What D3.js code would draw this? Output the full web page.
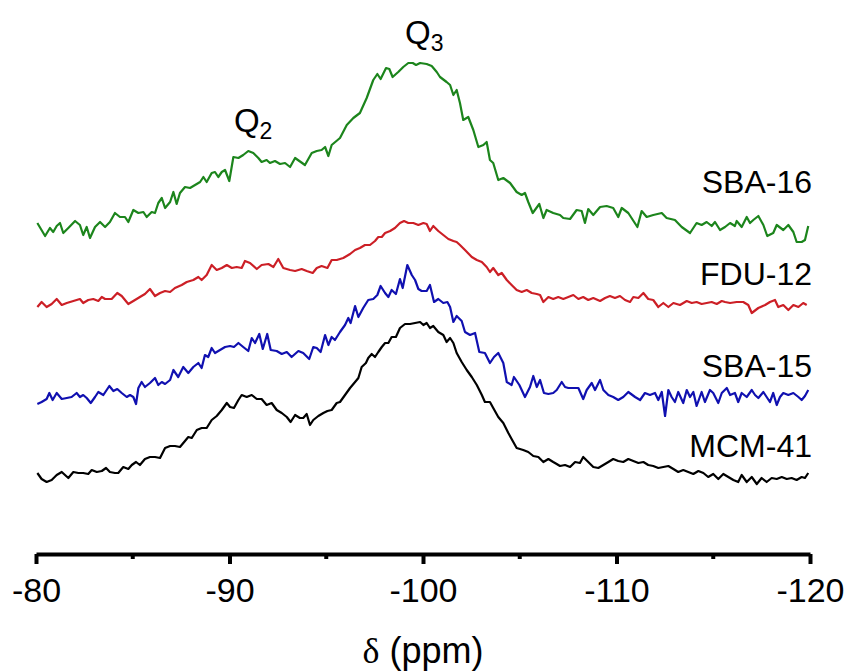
<!DOCTYPE html>
<html>
<head>
<meta charset="utf-8">
<script src="https://cdn.jsdelivr.net/npm/d3@7"></script>
<style>
  body { margin: 0; background: #fff; }
  text { font-family: "Liberation Sans", Arial, sans-serif; fill: #000; }
</style>
</head>
<body>
<svg width="847" height="672"></svg>
<script>
let width = 847,
    height = 672;

// chemical shift (ppm) vs stacked intensity (a.u.)
let mcm41 = [[-80.07,87],[-80.29,81],[-80.55,78],[-80.81,80],[-81.07,85],[-81.33,88],[-81.67,82],[-81.93,88],[-82.19,87],[-82.44,87],[-82.70,86],[-82.88,90],[-83.14,88],[-83.40,89],[-83.62,92],[-83.82,88],[-84.08,87],[-84.25,87],[-84.51,93],[-84.77,91],[-84.95,95],[-85.17,98],[-85.37,95],[-85.63,101],[-85.89,103],[-86.15,103],[-86.41,102],[-86.67,112],[-86.93,114],[-87.18,114],[-87.44,113],[-87.70,119],[-87.87,123],[-88.05,122],[-88.31,130],[-88.56,132],[-88.82,132],[-89.08,140],[-89.34,144],[-89.60,150],[-89.86,157],[-90.03,153],[-90.23,152],[-90.46,160],[-90.63,165],[-90.89,163],[-91.15,165],[-91.41,161],[-91.66,161],[-91.92,155],[-92.18,157],[-92.44,150],[-92.70,147],[-92.96,143],[-93.16,138],[-93.39,145],[-93.64,142],[-93.81,142],[-93.99,146],[-94.16,135],[-94.33,140],[-94.59,144],[-94.85,147],[-95.06,149],[-95.28,150],[-95.54,157],[-95.71,158],[-95.97,165],[-96.23,172],[-96.49,178],[-96.66,182],[-96.83,193],[-97.05,197],[-97.17,202],[-97.35,206],[-97.52,203],[-97.69,208],[-97.87,213],[-98.04,217],[-98.21,217],[-98.38,223],[-98.60,223],[-98.81,232],[-99.07,236],[-99.33,236],[-99.59,237],[-99.85,238],[-100.02,235],[-100.19,237],[-100.36,232],[-100.53,234],[-100.79,228],[-101.05,225],[-101.22,218],[-101.40,222],[-101.57,217],[-101.74,207],[-102.00,198],[-102.26,190],[-102.52,183],[-102.78,175],[-103.04,165],[-103.20,158],[-103.46,158],[-103.63,152],[-103.89,143],[-104.15,137],[-104.41,127],[-104.58,121],[-104.84,112],[-105.18,110],[-105.44,108],[-105.70,104],[-105.96,103],[-106.22,98],[-106.48,101],[-106.73,98],[-106.91,96],[-107.08,94],[-107.34,95],[-107.60,93],[-107.86,98],[-108.11,97],[-108.28,103],[-108.54,98],[-108.80,93],[-109.06,92],[-109.32,95],[-109.58,98],[-109.83,101],[-110.09,99],[-110.35,98],[-110.61,101],[-110.87,99],[-111.13,97],[-111.39,98],[-111.64,95],[-111.90,94],[-112.16,92],[-112.42,93],[-112.68,94],[-112.94,91],[-113.19,88],[-113.45,90],[-113.71,88],[-113.97,86],[-114.23,89],[-114.49,87],[-114.74,83],[-115.00,86],[-115.26,81],[-115.52,86],[-115.78,83],[-116.04,80],[-116.29,78],[-116.47,85],[-116.73,78],[-116.99,83],[-117.25,76],[-117.50,82],[-117.76,78],[-118.02,82],[-118.28,81],[-118.54,83],[-118.80,81],[-119.05,82],[-119.31,80],[-119.57,83],[-119.74,82],[-119.91,87]];

let sba15 = [[-80.07,156],[-80.29,158],[-80.55,161],[-80.69,167],[-80.86,160],[-81.07,167],[-81.33,161],[-81.59,162],[-81.84,163],[-82.10,167],[-82.27,163],[-82.44,165],[-82.62,162],[-82.83,157],[-83.05,163],[-83.22,168],[-83.48,165],[-83.79,174],[-84.00,169],[-84.20,171],[-84.43,167],[-84.69,163],[-84.86,165],[-85.03,163],[-85.17,156],[-85.29,172],[-85.46,178],[-85.63,173],[-85.89,177],[-86.15,182],[-86.32,175],[-86.50,178],[-86.67,176],[-86.93,180],[-87.10,190],[-87.35,183],[-87.61,193],[-87.87,187],[-88.13,193],[-88.39,197],[-88.56,192],[-88.73,205],[-88.90,203],[-89.08,212],[-89.25,207],[-89.51,210],[-89.77,213],[-90.03,214],[-90.23,213],[-90.46,217],[-90.71,213],[-90.97,209],[-91.15,222],[-91.32,217],[-91.54,226],[-91.72,211],[-91.95,226],[-92.13,210],[-92.44,209],[-92.70,206],[-92.96,208],[-93.21,203],[-93.56,209],[-93.81,207],[-94.12,201],[-94.33,213],[-94.51,212],[-94.71,208],[-94.94,225],[-95.11,215],[-95.28,223],[-95.45,220],[-95.71,228],[-95.97,235],[-96.14,242],[-96.26,237],[-96.49,254],[-96.66,243],[-96.91,252],[-97.17,260],[-97.43,261],[-97.64,265],[-97.81,274],[-98.04,267],[-98.21,263],[-98.38,270],[-98.60,266],[-98.81,281],[-98.95,272],[-99.19,295],[-99.42,285],[-99.59,280],[-99.76,271],[-99.93,269],[-100.19,269],[-100.36,275],[-100.57,258],[-100.79,261],[-101.05,257],[-101.26,258],[-101.40,253],[-101.57,238],[-101.74,244],[-102.00,239],[-102.17,228],[-102.43,225],[-102.69,227],[-102.91,208],[-103.20,207],[-103.46,197],[-103.67,203],[-103.89,207],[-104.15,197],[-104.33,178],[-104.58,175],[-104.70,183],[-104.98,175],[-105.27,163],[-105.53,173],[-105.70,184],[-105.88,173],[-106.05,180],[-106.25,167],[-106.48,166],[-106.73,167],[-106.91,170],[-107.17,178],[-107.34,173],[-107.51,172],[-107.77,172],[-108.03,172],[-108.28,161],[-108.46,170],[-108.72,177],[-108.89,170],[-109.15,180],[-109.32,170],[-109.58,165],[-109.83,163],[-110.09,160],[-110.35,163],[-110.61,168],[-110.96,163],[-111.22,160],[-111.47,167],[-111.73,165],[-111.99,167],[-112.16,160],[-112.34,168],[-112.51,144],[-112.68,170],[-112.85,163],[-113.02,158],[-113.19,168],[-113.45,157],[-113.63,170],[-113.80,163],[-113.97,168],[-114.14,154],[-114.40,168],[-114.57,158],[-114.83,170],[-115.00,167],[-115.26,157],[-115.44,167],[-115.70,172],[-115.87,165],[-116.12,167],[-116.29,158],[-116.47,167],[-116.73,163],[-116.99,170],[-117.16,165],[-117.33,162],[-117.59,168],[-117.76,163],[-117.93,158],[-118.10,167],[-118.28,155],[-118.45,163],[-118.62,167],[-118.88,165],[-119.14,167],[-119.40,163],[-119.57,160],[-119.74,164],[-119.91,170]];

let fdu12 = [[-80.07,253],[-80.29,258],[-80.55,253],[-80.81,256],[-81.07,261],[-81.33,255],[-81.59,257],[-81.93,259],[-82.27,261],[-82.44,257],[-82.70,260],[-82.96,261],[-83.22,259],[-83.40,263],[-83.57,261],[-83.91,261],[-84.20,267],[-84.43,264],[-84.77,256],[-85.03,259],[-85.37,263],[-85.63,266],[-85.89,271],[-86.15,264],[-86.41,267],[-86.67,269],[-86.93,268],[-87.18,272],[-87.53,275],[-87.79,278],[-88.13,280],[-88.39,283],[-88.56,280],[-88.82,285],[-89.08,295],[-89.34,290],[-89.60,292],[-89.86,295],[-90.12,292],[-90.37,293],[-90.63,292],[-90.80,299],[-91.06,297],[-91.41,291],[-91.66,295],[-92.01,296],[-92.27,293],[-92.52,301],[-92.78,292],[-93.13,290],[-93.39,289],[-93.73,291],[-93.99,289],[-94.30,287],[-94.51,292],[-94.76,294],[-95.06,292],[-95.28,300],[-95.54,300],[-95.88,302],[-96.23,306],[-96.49,310],[-96.74,312],[-97.00,315],[-97.26,315],[-97.52,319],[-97.69,323],[-97.87,323],[-98.04,327],[-98.30,329],[-98.55,332],[-98.81,337],[-99.02,339],[-99.24,337],[-99.50,337],[-99.76,335],[-100.02,337],[-100.19,336],[-100.36,329],[-100.53,334],[-100.79,329],[-101.05,325],[-101.31,321],[-101.57,319],[-101.74,318],[-101.91,315],[-102.17,310],[-102.52,303],[-102.78,300],[-103.04,298],[-103.29,293],[-103.46,288],[-103.63,292],[-103.89,285],[-104.07,287],[-104.33,280],[-104.58,275],[-104.84,270],[-105.10,268],[-105.36,270],[-105.62,267],[-105.88,266],[-106.05,265],[-106.22,258],[-106.48,263],[-106.73,261],[-106.99,263],[-107.25,261],[-107.51,263],[-107.77,265],[-108.03,261],[-108.28,263],[-108.54,260],[-108.80,262],[-109.15,259],[-109.41,262],[-109.66,264],[-109.92,262],[-110.18,264],[-110.44,260],[-110.70,258],[-110.87,263],[-111.13,262],[-111.39,267],[-111.64,261],[-111.90,260],[-112.16,253],[-112.42,257],[-112.68,253],[-112.94,257],[-113.28,255],[-113.63,259],[-113.89,257],[-114.14,258],[-114.40,256],[-114.66,257],[-114.92,258],[-115.18,256],[-115.44,259],[-115.61,258],[-115.87,257],[-116.21,258],[-116.55,258],[-116.81,255],[-116.99,247],[-117.33,252],[-117.68,255],[-117.93,258],[-118.19,260],[-118.36,253],[-118.62,255],[-118.88,250],[-119.14,255],[-119.40,253],[-119.65,257],[-119.83,255]];

let sba16 = [[-80.07,337],[-80.47,324],[-80.72,332],[-80.89,328],[-81.07,334],[-81.24,337],[-81.41,327],[-81.67,332],[-82.02,339],[-82.27,335],[-82.44,325],[-82.62,333],[-82.79,322],[-83.05,333],[-83.31,338],[-83.57,333],[-83.82,338],[-84.08,347],[-84.34,343],[-84.60,343],[-84.77,338],[-85.03,350],[-85.29,347],[-85.55,348],[-85.72,343],[-85.98,348],[-86.15,347],[-86.32,357],[-86.50,362],[-86.67,352],[-86.93,358],[-87.10,368],[-87.27,356],[-87.44,367],[-87.70,373],[-87.96,372],[-88.22,375],[-88.48,378],[-88.65,383],[-88.82,378],[-89.08,387],[-89.25,388],[-89.42,383],[-89.60,388],[-89.77,390],[-89.99,379],[-90.20,403],[-90.46,402],[-90.71,405],[-90.97,409],[-91.23,407],[-91.49,402],[-91.66,398],[-91.92,400],[-92.09,397],[-92.35,399],[-92.61,396],[-92.87,397],[-93.13,393],[-93.39,402],[-93.90,395],[-94.25,407],[-94.51,409],[-94.76,410],[-94.94,413],[-95.11,404],[-95.28,415],[-95.71,422],[-96.06,435],[-96.40,442],[-96.74,447],[-97.09,462],[-97.43,480],[-97.64,486],[-97.81,481],[-98.09,492],[-98.26,491],[-98.43,483],[-98.72,488],[-98.98,493],[-99.24,497],[-99.47,497],[-99.64,495],[-99.85,497],[-100.19,496],[-100.45,494],[-100.71,488],[-100.88,483],[-101.22,478],[-101.40,475],[-101.57,465],[-101.74,470],[-101.91,457],[-102.08,440],[-102.34,443],[-102.60,430],[-102.86,413],[-103.12,415],[-103.29,418],[-103.46,400],[-103.63,397],[-103.89,380],[-104.15,382],[-104.50,377],[-104.84,368],[-105.10,365],[-105.27,367],[-105.44,358],[-105.67,347],[-106.01,356],[-106.22,342],[-106.39,350],[-106.73,347],[-107.08,345],[-107.25,342],[-107.60,341],[-107.94,350],[-108.20,349],[-108.37,337],[-108.54,351],[-108.80,345],[-109.15,353],[-109.49,354],[-109.83,352],[-110.09,343],[-110.27,352],[-110.61,347],[-111.08,333],[-111.30,349],[-111.56,343],[-111.90,345],[-112.34,347],[-112.59,342],[-113.02,340],[-113.37,333],[-113.80,327],[-114.14,337],[-114.40,335],[-114.66,338],[-114.92,334],[-115.09,338],[-115.35,330],[-115.61,333],[-115.87,337],[-116.12,334],[-116.21,339],[-116.47,333],[-116.73,343],[-116.90,337],[-117.07,340],[-117.33,344],[-117.59,335],[-117.79,324],[-118.10,327],[-118.28,335],[-118.62,330],[-118.88,335],[-119.14,328],[-119.31,318],[-119.57,318],[-119.74,320],[-119.91,334]];

let seriesNames = ["MCM-41", "SBA-15", "FDU-12", "SBA-16"];
let seriesData = [mcm41, sba15, fdu12, sba16];
let seriesColors = ["#000000", "#1010b0", "#cc1f26", "#1c851c"];
// where each name sits (intensity units, right-aligned at -120 ppm)
let labelLevels = [103, 183, 275, 367];

let majorTicks = [-80, -90, -100, -110, -120];
let minorTicks = [-85, -95, -105, -115];

let x = d3.scaleLinear().domain([-80, -120]).range([36, 810]);
let y = d3.scaleLinear().domain([0, 500]).range([560, 60]);

let svg = d3.select("svg");

let line = d3.line()
  .x(d => x(d[0]))
  .y(d => y(d[1]));

svg.append("g")
  .selectAll("path")
  .data(seriesData)
  .enter().append("path")
    .attr("d", line)
    .attr("fill", "none")
    .attr("stroke", (d, i) => seriesColors[i])
    .attr("stroke-width", 2.2)
    .attr("stroke-linejoin", "round");

svg.append("g")
  .selectAll("text")
  .data(seriesNames)
  .enter().append("text")
    .attr("x", x(-120) + 2)
    .attr("y", (d, i) => y(labelLevels[i]))
    .attr("text-anchor", "end")
    .attr("font-size", 32)
    .text(d => d);

// peak labels
let peaks = [
  {name: "Q", sub: "2", ppm: -90.23, level: 428},
  {name: "Q", sub: "3", ppm: -99.07, level: 516}
];
let peakText = svg.append("g")
  .selectAll("text")
  .data(peaks)
  .enter().append("text")
    .attr("x", d => x(d.ppm))
    .attr("y", d => y(d.level))
    .attr("font-size", 33);
peakText.append("tspan").text(d => d.name);
peakText.append("tspan")
  .attr("font-size", 23)
  .attr("dy", 7)
  .text(d => d.sub);

// x axis
let axisY = 554;
let xAxis = svg.append("g")
  .attr("transform", "translate(0," + axisY + ")")
  .call(d3.axisBottom(x)
    .tickValues(majorTicks)
    .tickSizeInner(10)
    .tickSizeOuter(0)
    .tickPadding(14)
    .tickFormat(d => String(d)));

xAxis.select(".domain").attr("stroke-width", 4);
xAxis.selectAll(".tick line").attr("stroke-width", 4);
xAxis.selectAll(".tick text")
  .attr("font-size", 34)
  .attr("font-family", "Liberation Sans, Arial, sans-serif");

svg.append("g")
  .attr("transform", "translate(0," + axisY + ")")
  .selectAll("line")
  .data(minorTicks)
  .enter().append("line")
    .attr("x1", d => x(d))
    .attr("x2", d => x(d))
    .attr("y1", 0)
    .attr("y2", 5)
    .attr("stroke", "#000")
    .attr("stroke-width", 4);

let title = svg.append("text")
  .attr("x", x(-100))
  .attr("y", 663)
  .attr("text-anchor", "middle")
  .attr("font-size", 36);
title.append("tspan")
  .attr("font-family", "Liberation Serif, serif")
  .text("δ");
title.append("tspan").text(" (ppm)");
</script>
</body>
</html>
